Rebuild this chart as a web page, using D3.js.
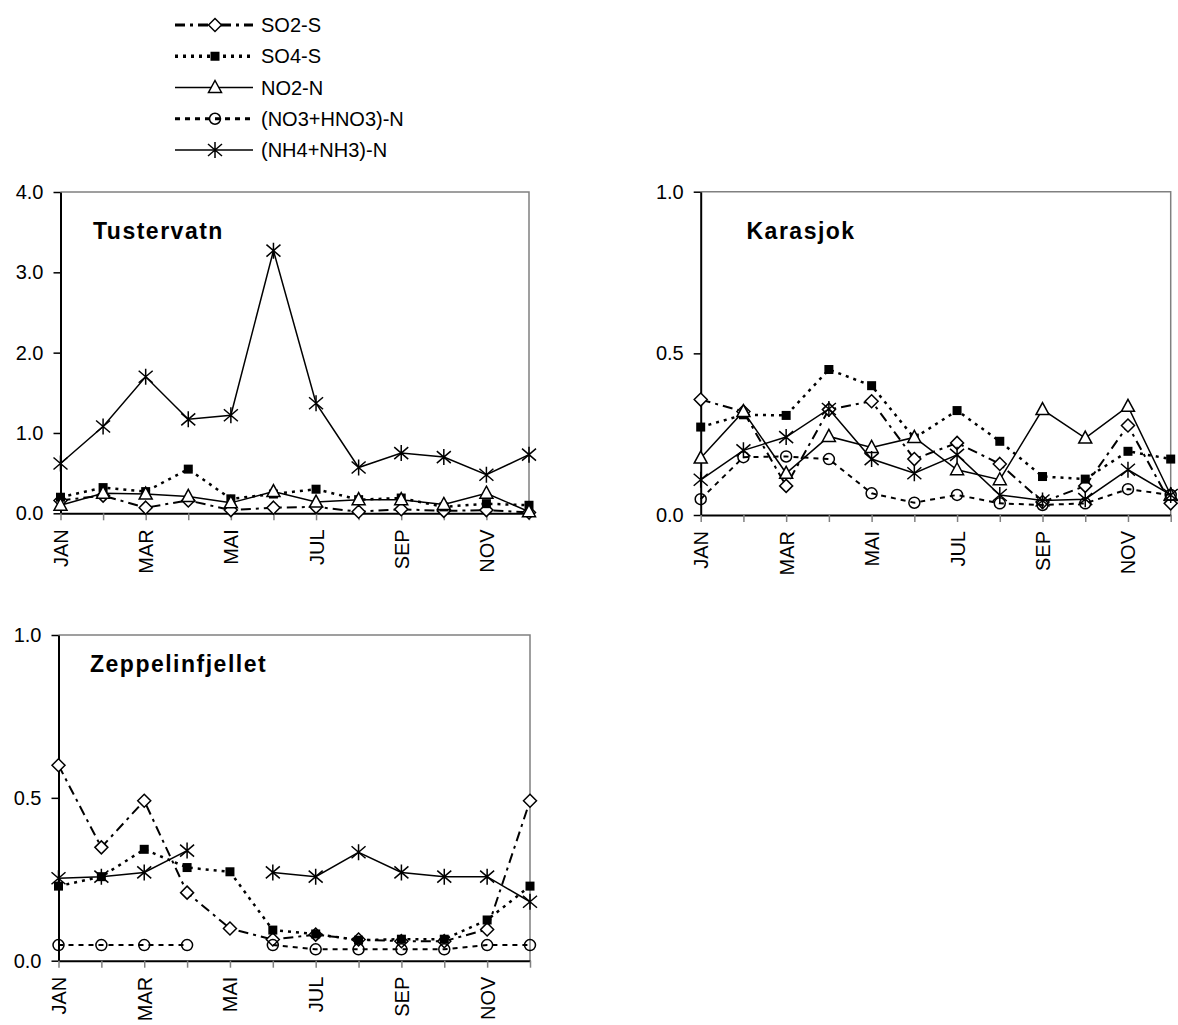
<!DOCTYPE html>
<html>
<head>
<meta charset="utf-8">
<script src="https://cdn.jsdelivr.net/npm/d3@7"></script>
<style>
  body { margin: 0; background: #fff; }
  svg { font-family: Arial, 'Liberation Sans', sans-serif; }
</style>
</head>
<body>
<div id="chart"></div>
<script>
// month categories on the x axis
const months = ['JAN', 'FEB', 'MAR', 'APR', 'MAI', 'JUN', 'JUL', 'AUG', 'SEP', 'OKT', 'NOV', 'DES'];
const monthLabels = ['JAN', 'MAR', 'MAI', 'JUL', 'SEP', 'NOV'];
const seriesNames = ['SO2-S', 'SO4-S', 'NO2-N', '(NO3+HNO3)-N', '(NH4+NH3)-N'];

// Tustervatn
const tusSO2 = [0.16, 0.22, 0.07, 0.16, 0.04, 0.07, 0.08, 0.02, 0.05, 0.03, 0.04, 0.01];
const tusSO4 = [0.20, 0.32, 0.27, 0.55, 0.18, 0.24, 0.30, 0.17, 0.19, 0.08, 0.12, 0.10];
const tusNO2 = [0.10, 0.25, 0.24, 0.21, 0.13, 0.27, 0.14, 0.17, 0.17, 0.11, 0.25, 0.02];
const tusNO3 = [null, null, null, null, null, null, null, null, null, null, null, null];
const tusNH4 = [0.62, 1.08, 1.70, 1.17, 1.22, 3.27, 1.37, 0.57, 0.75, 0.70, 0.48, 0.73];

// Karasjok
const karSO2 = [0.357, 0.32, 0.09, 0.326, 0.352, 0.173, 0.223, 0.158, 0.04, 0.09, 0.277, 0.036];
const karSO4 = [0.272, 0.31, 0.308, 0.45, 0.40, 0.238, 0.323, 0.228, 0.119, 0.111, 0.197, 0.173];
const karNO2 = [0.176, 0.32, 0.129, 0.243, 0.209, 0.24, 0.14, 0.109, 0.326, 0.238, 0.336, 0.062];
const karNO3 = [0.049, 0.179, 0.181, 0.173, 0.067, 0.038, 0.062, 0.036, 0.031, 0.036, 0.08, 0.062];
const karNH4 = [0.109, 0.20, 0.241, 0.328, 0.173, 0.129, 0.186, 0.062, 0.045, 0.049, 0.14, 0.062];

// Zeppelinfjellet
const zepSO2 = [0.60, 0.348, 0.491, 0.209, 0.099, 0.065, 0.08, 0.065, 0.06, 0.06, 0.096, 0.491];
const zepSO4 = [0.229, 0.258, 0.342, 0.286, 0.273, 0.094, 0.082, 0.063, 0.066, 0.066, 0.125, 0.229];
const zepNO2 = [null, null, null, null, null, null, null, null, null, null, null, null];
const zepNO3 = [0.048, 0.048, 0.048, 0.048, null, 0.048, 0.035, 0.035, 0.035, 0.035, 0.048, 0.048];
const zepNH4 = [0.253, 0.258, 0.271, 0.338, null, 0.271, 0.258, 0.333, 0.271, 0.258, 0.258, 0.181];

const CHART = {
  selector: '#chart',
  width: 1178,
  height: 1025,

  // line + marker style per series (same order as seriesNames)
  styles: [
    { dash: '10,5,3,5', width: 2, marker: 'diamond' },
    { dash: '3,5', width: 2.5, marker: 'square' },
    { dash: null, width: 1.5, marker: 'triangle' },
    { dash: '5,5', width: 2, marker: 'circle' },
    { dash: null, width: 1.5, marker: 'asterisk' },
  ],

  panels: [
    { name: 'Tustervatn', left: 60.5, right: 529, top: 192, bottom: 513.3,
      yMax: 4, ticks: [0, 1, 2, 3, 4], titleX: 93, titleY: 238.5,
      series: [tusSO2, tusSO4, tusNO2, tusNO3, tusNH4] },
    { name: 'Karasjok', left: 700.7, right: 1170.7, top: 191.7, bottom: 515,
      yMax: 1, ticks: [0, 0.5, 1], titleX: 746.5, titleY: 238.5,
      series: [karSO2, karSO4, karNO2, karNO3, karNH4] },
    { name: 'Zeppelinfjellet', left: 58.5, right: 530, top: 635, bottom: 960.7,
      yMax: 1, ticks: [0, 0.5, 1], titleX: 90, titleY: 672,
      series: [zepSO2, zepSO4, zepNO2, zepNO3, zepNH4] },
  ],

  init: function () {
    this.svg = d3.select(this.selector)
      .append('svg')
      .attr('width', this.width)
      .attr('height', this.height);

    this.drawLegend();
    this.panels.forEach((p) => this.drawPanel(p));
  },

  marker: function (g, type) {
    if (type === 'diamond') {
      g.append('path').attr('d', 'M0,-6.5L6.5,0L0,6.5L-6.5,0Z')
        .attr('fill', '#fff').attr('stroke', '#000').attr('stroke-width', 1.5);
    } else if (type === 'square') {
      g.append('rect').attr('x', -4.5).attr('y', -4.5).attr('width', 9).attr('height', 9)
        .attr('fill', '#000');
    } else if (type === 'triangle') {
      g.append('path').attr('d', 'M0,-7L6.5,5L-6.5,5Z')
        .attr('fill', '#fff').attr('stroke', '#000').attr('stroke-width', 1.5);
    } else if (type === 'circle') {
      g.append('circle').attr('r', 5.5)
        .attr('fill', 'none').attr('stroke', '#000').attr('stroke-width', 1.5);
    } else if (type === 'asterisk') {
      g.append('path').attr('d', 'M0,-8L0,8M-7,-6L7,6M-7,6L7,-6')
        .attr('fill', 'none').attr('stroke', '#000').attr('stroke-width', 1.5);
    }
  },

  drawLegend: function () {
    const self = this;
    const legend = this.svg.append('g').attr('class', 'legend');
    const rowY = d3.scaleLinear().domain([0, 4]).range([25, 150]);

    seriesNames.forEach(function (name, i) {
      const st = self.styles[i];
      const row = legend.append('g').attr('transform', 'translate(0,' + rowY(i) + ')');
      row.append('line')
        .attr('x1', 175).attr('x2', 253)
        .attr('stroke', '#000')
        .attr('stroke-width', st.dash ? st.width + 1 : st.width)
        .attr('stroke-dasharray', st.dash);
      self.marker(row.append('g').attr('transform', 'translate(215,0)'), st.marker);
      row.append('text')
        .attr('x', 261).attr('y', 0).attr('dy', '0.35em')
        .attr('font-size', 20)
        .text(name);
    });
  },

  drawPanel: function (p) {
    const self = this;
    const g = this.svg.append('g').attr('class', 'panel');

    const x = d3.scalePoint().domain(months).range([p.left, p.right]);
    const y = d3.scaleLinear().domain([0, p.yMax]).range([p.bottom, p.top]);

    // grey frame on top and right
    g.append('path')
      .attr('d', 'M' + p.left + ',' + p.top + 'H' + p.right + 'V' + p.bottom)
      .attr('fill', 'none').attr('stroke', '#808080').attr('stroke-width', 1.5);

    const yAxis = g.append('g')
      .attr('transform', 'translate(' + p.left + ',0)')
      .call(d3.axisLeft(y).tickValues(p.ticks).tickFormat(d3.format('.1f'))
        .tickSize(7).tickSizeOuter(0).tickPadding(10));
    yAxis.select('.domain').attr('stroke', '#000').attr('stroke-width', 2);
    yAxis.selectAll('.tick line').attr('stroke', '#000').attr('stroke-width', 1.5);
    yAxis.selectAll('.tick text')
      .attr('font-size', 20).attr('font-family', null).attr('fill', '#000');

    const xAxis = g.append('g')
      .attr('transform', 'translate(0,' + p.bottom + ')')
      .call(d3.axisBottom(x)
        .tickFormat((d) => (monthLabels.indexOf(d) >= 0 ? d : ''))
        .tickSize(7).tickSizeOuter(0));
    xAxis.select('.domain').attr('stroke', '#000').attr('stroke-width', 2);
    xAxis.selectAll('.tick line').attr('stroke', '#808080').attr('stroke-width', 1.5);
    xAxis.selectAll('.tick text')
      .attr('font-size', 20).attr('font-family', null).attr('fill', '#000')
      .attr('transform', 'rotate(-90)')
      .attr('text-anchor', 'end')
      .attr('x', -16).attr('y', 0).attr('dy', '0.35em');

    g.append('text')
      .attr('x', p.titleX).attr('y', p.titleY)
      .attr('font-size', 23).attr('font-weight', 'bold')
      .attr('letter-spacing', 1.5)
      .text(p.name);

    const line = d3.line()
      .defined((d) => d.value !== null)
      .x((d) => x(d.month))
      .y((d) => y(d.value));

    p.series.forEach(function (values, i) {
      const st = self.styles[i];
      const pts = months.map((m, j) => ({ month: m, value: values[j] }));
      g.append('path')
        .datum(pts)
        .attr('d', line)
        .attr('fill', 'none')
        .attr('stroke', '#000')
        .attr('stroke-width', st.width)
        .attr('stroke-dasharray', st.dash);
      pts.filter((d) => d.value !== null).forEach(function (d) {
        self.marker(
          g.append('g').attr('transform', 'translate(' + x(d.month) + ',' + y(d.value) + ')'),
          st.marker
        );
      });
    });
  },
};

CHART.init();
</script>
</body>
</html>
